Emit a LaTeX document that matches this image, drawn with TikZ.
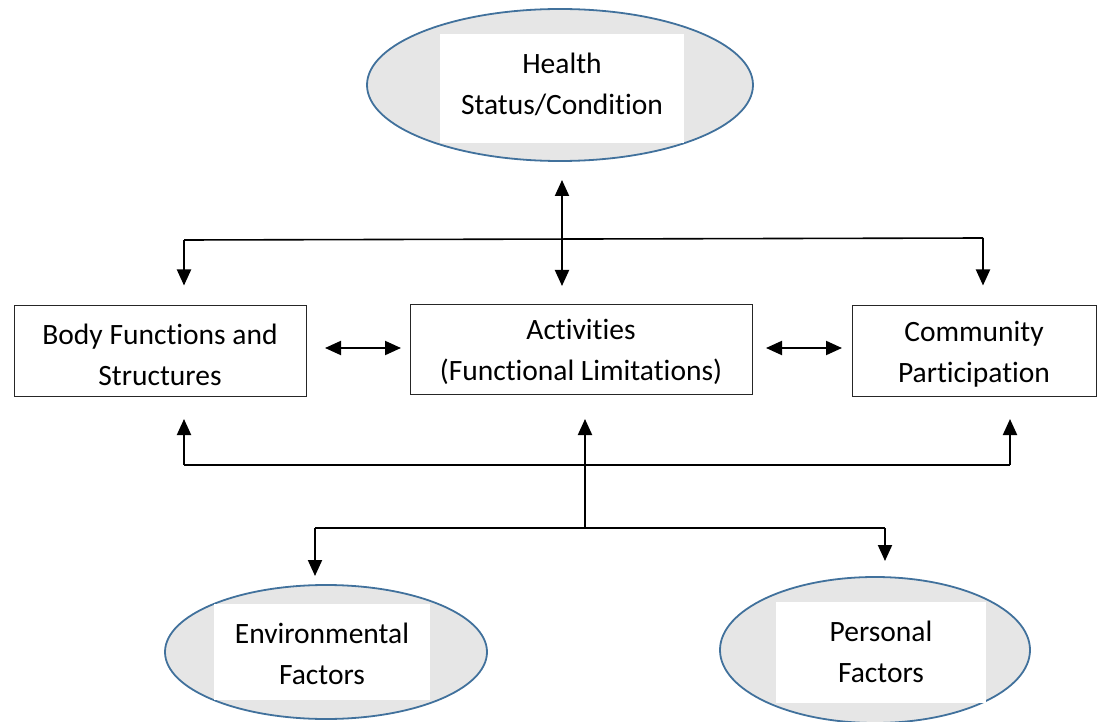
\documentclass[tikz,border=0pt]{standalone}
\usepackage{fontspec}
\setmainfont[Ligatures={NoCommon}]{Carlito}
\usetikzlibrary{arrows.meta,shapes.geometric}
\definecolor{ellblue}{HTML}{41719C}
\definecolor{ellfill}{HTML}{E6E6E6}
\begin{document}
\begin{tikzpicture}[x=1pt,y=-1pt,
  txt/.style={font=\fontsize{29.5}{41}\selectfont, align=center},
  ell/.style={ellipse, draw=ellblue, line width=1.8pt, fill=ellfill, inner sep=0pt},
  wbox/.style={fill=white, inner sep=0pt},
  cbox/.style={draw=black!85, line width=1pt, inner sep=0pt},
  arr/.style={line width=2pt, -{Triangle[width=14pt,length=16pt]}},
  darr/.style={line width=2pt, {Triangle[width=14pt,length=16pt]}-{Triangle[width=14pt,length=16pt]}},
  conn/.style={line width=1.6pt}]
\useasboundingbox (0,0) rectangle (1098,722);

% ellipses
\node[ell, minimum width=386pt, minimum height=152pt] (health) at (560,85) {};
\node[wbox, minimum width=244pt, minimum height=109pt] (healthtxt) at (562,88.5) {};
\node[txt] (healthlbl) at (562,84) {Health\\Status/Condition};

\node[ell, minimum width=322pt, minimum height=134pt] (env) at (326,652) {};
\node[wbox, minimum width=216pt, minimum height=96pt] (envtxt) at (322,652) {};
\node[txt] (envlbl) at (322,654) {Environmental\\Factors};

\node[ell, minimum width=310pt, minimum height=146pt] (pers) at (875,650) {};
\node[wbox, minimum width=210pt, minimum height=101pt] (perstxt) at (881,652.5) {};
\node[txt] (perslbl) at (881,652) {Personal\\Factors};

% boxes
\node[cbox, minimum width=292pt, minimum height=91pt] (body) at (160,350.5) {};
\node[txt] (bodylbl) at (160,355) {Body Functions and\\Structures};
\node[cbox, minimum width=342pt, minimum height=90pt] (act) at (581,349) {};
\node[txt] (actlbl) at (581,352) {Activities\\(Functional Limitations)};
\node[cbox, minimum width=244pt, minimum height=91pt] (comm) at (974,350.5) {};
\node[txt] (commlbl) at (974,354) {Community\\Participation};

% top connectors
\coordinate (hs) at (562,180);
\coordinate (an) at (562,286);
\coordinate (tl) at (184,240);
\coordinate (tr) at (983,238);
\draw[conn] (tl) -- (tr);
\draw[darr] (hs) -- (an);
\draw[arr] (tl) -- ([yshift=19pt]tl |- body.north);
\draw[arr] (tr) -- ([yshift=19pt]tr |- comm.north);

% horizontal double arrows
\coordinate (l1) at (325,348);
\coordinate (l2) at (401,348);
\coordinate (r1) at (766,348);
\coordinate (r2) at (842,348);
\draw[darr] (l1) -- (l2);
\draw[darr] (r1) -- (r2);

% bottom connectors
\coordinate (bl) at (184,465);
\coordinate (br) at (1010,465);
\coordinate (bm) at (585,528);
\coordinate (bll) at (315,528);
\coordinate (brr) at (885,528);
\draw[conn] (bl) -- (br);
\draw[arr] (bl) -- (184,419);
\draw[arr] (br) -- (1010,419);
\draw[arr] (bm) -- (585,419);
\draw[conn] (bll) -- (brr);
\draw[arr] (bll) -- (315,576);
\draw[arr] (brr) -- (885,561);
\end{tikzpicture}
\end{document}
